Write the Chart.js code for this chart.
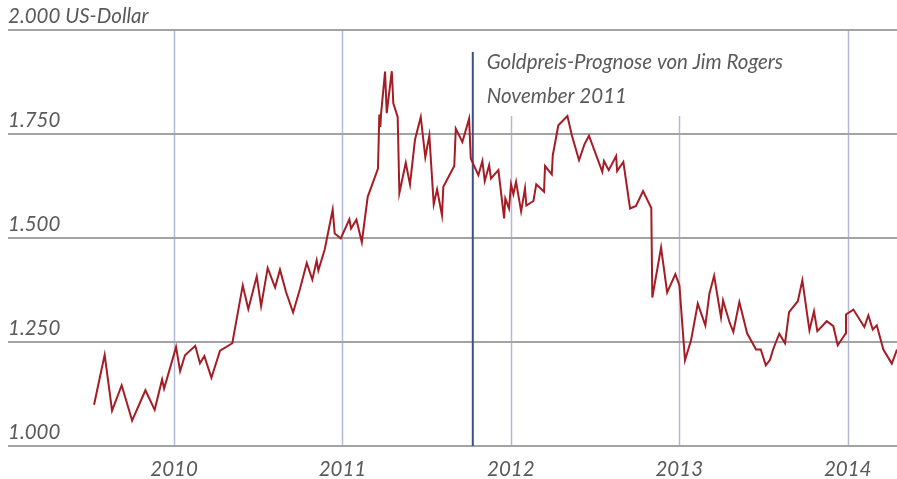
<!DOCTYPE html>
<html>
<head>
<meta charset="utf-8">
<script src="https://cdn.jsdelivr.net/npm/chart.js@4"></script>
<style>
  html, body { margin: 0; padding: 0; background: #fff; }
  #wrap { width: 897px; height: 479px; }
</style>
</head>
<body>
<div id="wrap"><canvas id="goldChart" width="897" height="479"></canvas></div>
<script>
// gold price in US dollars, x = decimal year
const dates = [
    2009.525, 2009.588, 2009.632, 2009.689, 2009.751, 2009.830, 2009.885, 2009.929, 2009.941,
    2010.012, 2010.036, 2010.065, 2010.126, 2010.154, 2010.180, 2010.222, 2010.273, 2010.346,
    2010.408, 2010.441, 2010.491, 2010.517, 2010.556, 2010.600, 2010.629, 2010.665, 2010.707,
    2010.748, 2010.788, 2010.821, 2010.847, 2010.857, 2010.895, 2010.942, 2010.954, 2010.990,
    2011.041, 2011.051, 2011.083, 2011.115, 2011.150, 2011.211, 2011.219, 2011.225, 2011.229,
    2011.253, 2011.263, 2011.293, 2011.302, 2011.328, 2011.338, 2011.376, 2011.401, 2011.431,
    2011.465, 2011.492, 2011.516, 2011.542, 2011.562, 2011.591, 2011.599, 2011.664, 2011.673,
    2011.712, 2011.752, 2011.762, 2011.807, 2011.831, 2011.845, 2011.871, 2011.882, 2011.926,
    2011.960, 2011.967, 2011.989, 2012.001, 2012.015, 2012.031, 2012.061, 2012.084, 2012.092,
    2012.134, 2012.151, 2012.197, 2012.203, 2012.243, 2012.249, 2012.282, 2012.336, 2012.362,
    2012.405, 2012.437, 2012.464, 2012.543, 2012.553, 2012.581, 2012.625, 2012.631, 2012.668,
    2012.708, 2012.743, 2012.785, 2012.834, 2012.840, 2012.892, 2012.928, 2012.977, 2013.001,
    2013.034, 2013.070, 2013.110, 2013.155, 2013.179, 2013.207, 2013.248, 2013.260, 2013.298,
    2013.321, 2013.357, 2013.403, 2013.456, 2013.484, 2013.514, 2013.539, 2013.557, 2013.594,
    2013.628, 2013.652, 2013.704, 2013.731, 2013.773, 2013.800, 2013.820, 2013.876, 2013.915,
    2013.941, 2013.989, 2013.990, 2014.034, 2014.099, 2014.123, 2014.149, 2014.173, 2014.212,
    2014.262, 2014.293
];
const prices = [
    1099, 1219, 1085, 1146, 1061, 1134, 1087, 1160, 1138,
    1238, 1180, 1218, 1241, 1199, 1216, 1164, 1229, 1247,
    1386, 1329, 1408, 1336, 1428, 1381, 1424, 1370, 1321,
    1378, 1440, 1400, 1446, 1422, 1473, 1568, 1511, 1499,
    1545, 1523, 1544, 1490, 1599, 1667, 1797, 1767, 1797,
    1900, 1800, 1901, 1824, 1791, 1608, 1681, 1629, 1737,
    1791, 1694, 1746, 1581, 1617, 1555, 1623, 1673, 1763,
    1731, 1787, 1691, 1651, 1685, 1637, 1675, 1643, 1663,
    1547, 1595, 1571, 1629, 1605, 1635, 1564, 1619, 1578,
    1589, 1629, 1611, 1673, 1653, 1699, 1771, 1793, 1747,
    1687, 1725, 1746, 1659, 1685, 1663, 1697, 1661, 1683,
    1571, 1577, 1613, 1572, 1357, 1477, 1369, 1413, 1386,
    1206, 1254, 1342, 1290, 1366, 1409, 1309, 1350, 1298,
    1274, 1346, 1271, 1232, 1232, 1194, 1207, 1232, 1270,
    1247, 1322, 1348, 1398, 1278, 1324, 1276, 1300, 1288,
    1242, 1271, 1316, 1328, 1286, 1314, 1280, 1290, 1232,
    1198, 1232
];

const yearTicks = [2010, 2011, 2012, 2013, 2014];
const priceTicks = [1000, 1250, 1500, 1750, 2000];
const priceTickLabels = ["1.000", "1.250", "1.500", "1.750", "2.000 US-Dollar"];

const forecastDate = 2011.774;
const forecastText = ["Goldpreis-Prognose von Jim Rogers", "November 2011"];

const labelFont = "italic 20.5px Lato";
const labelColor = "#5a5a5a";

const overlay = {
    id: "overlay",
    beforeDraw(chart) {
        // year lines, the ones under the note start lower
        const ctx = chart.ctx;
        const area = chart.chartArea;
        const xs = chart.scales.x;
        const noteLeft = xs.getPixelForValue(forecastDate);
        ctx.save();
        ctx.strokeStyle = "#b4b8d8";
        ctx.lineWidth = 1.5;
        yearTicks.forEach((yr) => {
            const x = Math.round(xs.getPixelForValue(yr)) + 0.5;
            const top = (x > noteLeft && x < noteLeft + 320) ? 116 : area.top;
            ctx.beginPath();
            ctx.moveTo(x, top);
            ctx.lineTo(x, area.bottom);
            ctx.stroke();
        });
        ctx.restore();
    },
    beforeDatasetsDraw(chart) {
        const ctx = chart.ctx;
        const area = chart.chartArea;
        const x = chart.scales.x.getPixelForValue(forecastDate);
        ctx.save();
        ctx.strokeStyle = "#3d4f88";
        ctx.lineWidth = 2;
        ctx.beginPath();
        ctx.moveTo(x, 52);
        ctx.lineTo(x, area.bottom);
        ctx.stroke();
        ctx.restore();
    },
    afterDraw(chart) {
        const ctx = chart.ctx;
        const area = chart.chartArea;
        const xs = chart.scales.x;
        const ys = chart.scales.y;
        ctx.save();
        ctx.font = labelFont;
        ctx.fillStyle = labelColor;
        ctx.textBaseline = "alphabetic";

        ctx.textAlign = "left";
        priceTicks.forEach((v, i) => {
            ctx.fillText(priceTickLabels[i], area.left, ys.getPixelForValue(v) - 7);
        });

        ctx.textAlign = "center";
        yearTicks.forEach((yr) => {
            ctx.fillText(String(yr), xs.getPixelForValue(yr), 476);
        });

        ctx.textAlign = "left";
        const noteX = xs.getPixelForValue(forecastDate) + 14;
        ctx.fillText(forecastText[0], noteX, 69);
        ctx.fillText(forecastText[1], noteX, 103);
        ctx.restore();
    },
};

new Chart(document.getElementById("goldChart"), {
    type: "line",
    data: {
        datasets: [
            {
                data: dates.map((d, i) => ({ x: d, y: prices[i] })),
                borderColor: "#a51c25",
                borderWidth: 2,
                pointRadius: 0,
                tension: 0,
                fill: false,
            },
        ],
    },
    options: {
        responsive: false,
        animation: false,
        layout: {
            padding: { left: 8, right: 0, top: 30, bottom: 33 },
        },
        scales: {
            x: {
                type: "linear",
                display: false,
                min: 2009.014,
                max: 2014.293,
            },
            y: {
                min: 1000,
                max: 2000,
                afterBuildTicks: (scale) => {
                    scale.ticks = priceTicks.map((v) => ({ value: v }));
                },
                ticks: { display: false },
                border: { display: false },
                grid: {
                    color: "#a3a3a3",
                    lineWidth: 2,
                    drawTicks: false,
                },
            },
        },
        plugins: {
            legend: { display: false },
            tooltip: { enabled: false },
        },
    },
    plugins: [overlay],
});
</script>
</body>
</html>
